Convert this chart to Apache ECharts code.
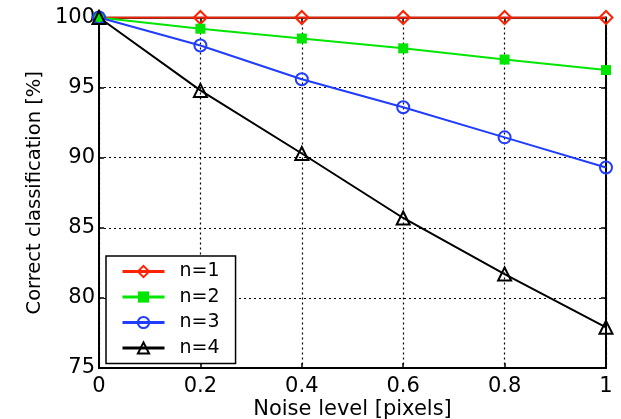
<!DOCTYPE html>
<html>
<head>
<meta charset="utf-8">
<script src="https://cdn.jsdelivr.net/npm/echarts@6/dist/echarts.min.js"></script>
<style>
  html, body { margin: 0; padding: 0; background: #fff; }
  #chart { width: 621px; height: 419px; }
</style>
</head>
<body>
<div id="chart"></div>
<script>
// Noise level (pixels) on the x axis
const noiseLevels = [0, 0.2, 0.4, 0.6, 0.8, 1];

// Correct classification rate (%) for each n
const n1 = [100, 100, 100, 100, 100, 100];
const n2 = [100, 99.2, 98.5, 97.8, 97.0, 96.25];
const n3 = [100, 98.0, 95.6, 93.6, 91.45, 89.3];
const n4 = [100, 94.8, 90.3, 85.7, 81.7, 77.9];

const seriesNames = ['n=1', 'n=2', 'n=3', 'n=4'];

const FONT = 'DejaVu Sans';

function pairs(vals) {
  return noiseLevels.map((x, i) => [x, vals[i]]);
}

function lineSeries(name, vals, color, symbol, size, filled) {
  return {
    name: name,
    type: 'line',
    xAxisIndex: 0,
    yAxisIndex: 0,
    data: pairs(vals),
    symbol: symbol,
    symbolSize: size,
    showAllSymbol: true,
    lineStyle: { color: color, width: 2 },
    itemStyle: {
      color: filled ? color : 'rgba(0,0,0,0)',
      borderColor: color,
      borderWidth: filled ? 0 : 2
    },
    emphasis: { disabled: true },
    animation: false
  };
}

const chart = echarts.init(document.getElementById('chart'));

const gridLine = { show: true, lineStyle: { color: '#000', width: 1.2, type: [2, 3] } };
const tickLabel = { color: '#000', fontFamily: FONT, fontSize: 21 };

chart.setOption({
  backgroundColor: '#fff',
  animation: false,
  grid: {
    left: 99, right: 15, top: 17.5, bottom: 51,
    outerBoundsMode: 'none',
    containLabel: false,
    show: true, borderColor: '#000', borderWidth: 1.5, backgroundColor: 'transparent'
  },
  legend: {
    orient: 'vertical',
    left: 106,
    top: 256,
    data: seriesNames,
    itemWidth: 42,
    itemHeight: 14,
    itemGap: 6.5,
    padding: [6, 16, 6, 15],
    borderColor: '#000',
    borderWidth: 1.5,
    backgroundColor: '#fff',
    lineStyle: { width: 3 },
    textStyle: { color: '#000', fontFamily: FONT, fontSize: 19, padding: [0, 0, 0, 10] },
    selectedMode: false
  },
  xAxis: [
    {
      type: 'value', position: 'bottom', min: 0, max: 1, interval: 0.2,
      name: 'Noise level [pixels]', nameLocation: 'middle', nameGap: 31,
      nameMoveOverlap: false,
      nameTextStyle: { color: '#000', fontFamily: FONT, fontSize: 21 },
      axisLine: { show: true, onZero: false, lineStyle: { color: '#000', width: 2 } },
      axisTick: { show: true, inside: true, length: 5, lineStyle: { color: '#000', width: 1.5 } },
      axisLabel: Object.assign({ margin: 8 }, tickLabel),
      splitLine: gridLine
    },
    {
      type: 'value', position: 'top', min: 0, max: 1, interval: 0.2,
      axisLine: { show: true, onZero: false, lineStyle: { color: '#000', width: 1.5 } },
      axisTick: { show: true, inside: true, length: 5, lineStyle: { color: '#000', width: 1.5 } },
      axisLabel: { show: false },
      splitLine: { show: false }
    }
  ],
  yAxis: [
    {
      type: 'value', position: 'left', min: 75, max: 100, interval: 5,
      name: 'Correct classification [%]', nameLocation: 'middle', nameGap: 54, nameRotate: 90,
      nameMoveOverlap: false,
      nameTextStyle: { color: '#000', fontFamily: FONT, fontSize: 19.5 },
      axisLine: { show: true, onZero: false, lineStyle: { color: '#000', width: 2 } },
      axisTick: { show: true, inside: true, length: 5, lineStyle: { color: '#000', width: 1.5 } },
      axisLabel: Object.assign({ margin: 4 }, tickLabel),
      splitLine: gridLine
    },
    {
      type: 'value', position: 'right', min: 75, max: 100, interval: 5,
      axisLine: { show: true, onZero: false, lineStyle: { color: '#000', width: 2 } },
      axisTick: { show: true, inside: true, length: 5, lineStyle: { color: '#000', width: 1.5 } },
      axisLabel: { show: false },
      splitLine: { show: false }
    }
  ],
  series: [
    lineSeries(seriesNames[0], n1, '#ff2200', 'diamond', 13, false),
    lineSeries(seriesNames[1], n2, '#00e600', 'rect', 10, true),
    lineSeries(seriesNames[2], n3, '#1f3cff', 'circle', 12, false),
    lineSeries(seriesNames[3], n4, '#000000', 'triangle', 13, false)
  ]
});
</script>
</body>
</html>
